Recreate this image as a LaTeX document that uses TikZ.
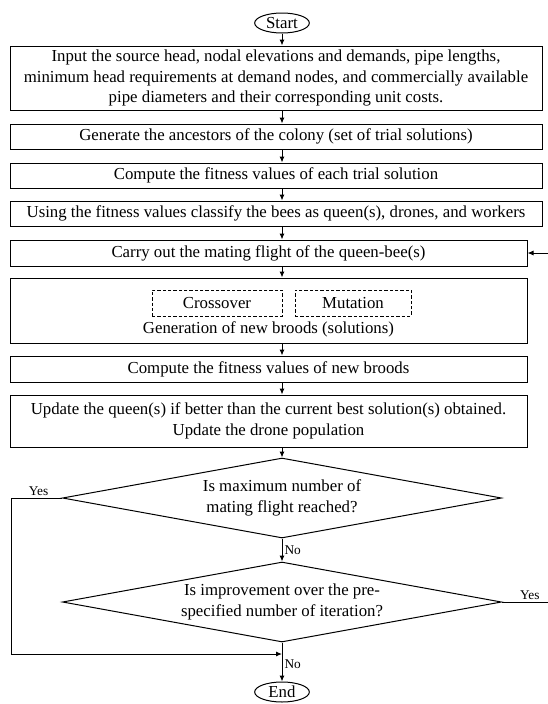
\documentclass[tikz,border=0pt]{standalone}
\usepackage{fontspec}
\setmainfont{Liberation Serif}
\usetikzlibrary{arrows.meta,shapes.geometric}

\begin{document}
\begin{tikzpicture}[x=0.75pt,y=-0.75pt,>={Latex[length=4.5pt,width=3.8pt]},line width=0.75pt,
  font=\fontsize{12.6}{15.5}\selectfont,
  proc/.style={draw,rectangle,align=center,inner sep=0pt},
  wide/.style={proc,minimum width=399pt},
  narrow/.style={proc,minimum width=387.75pt},
  term/.style={draw,ellipse,inner sep=0pt},
  test/.style={draw,diamond,aspect=5.5,inner sep=0pt,minimum width=329.25pt,minimum height=60pt,align=center},
  op/.style={draw,dash pattern=on 2.5pt off 1.5pt,minimum width=97.5pt,minimum height=19.5pt,inner sep=0pt},
  lbl/.style={font=\fontsize{10}{11}\selectfont,inner sep=1.5pt}]
\useasboundingbox (0,0) rectangle (548,704);
\node[term,minimum width=41pt,minimum height=15pt] (start) at (282,23) {Start};
\node[wide,minimum height=48pt] (input) at (276,78) {Input the source head, nodal elevations and demands, pipe lengths,\\ minimum head requirements at demand nodes, and commercially available\\ pipe diameters and their corresponding unit costs.};
\node[wide,minimum height=18.75pt] (ancestors) at (276,136.5) {Generate the ancestors of the colony (set of trial solutions)};
\node[wide,minimum height=18.75pt] (fitness) at (276,175.5) {Compute the fitness values of each trial solution};
\node[wide,minimum height=18.75pt] (classify) at (276,213.5) {Using the fitness values classify the bees as queen(s), drones, and workers};
\node[narrow,minimum height=19.5pt] (mating) at (268.5,253) {Carry out the mating flight of the queen-bee(s)};
\node[narrow,minimum height=48.75pt] (broods) at (268.5,310.5) {};
\node[op] (crossover) at (217,303) {Crossover};
\node[op,minimum width=87pt] (mutation) at (353,303) {Mutation};
\node (generation) at (268.5,329) {Generation of new broods (solutions)};
\node[narrow,minimum height=19.5pt] (newfit) at (268.5,369) {Compute the fitness values of new broods};
\node[narrow,minimum height=39pt] (update) at (268.5,421) {Update the queen(s) if better than the current best solution(s) obtained.\\ Update the drone population};
\node[test] (maxflight) at (282,498) {Is maximum number of\\ mating flight reached?};
\node[test] (improve) at (282,602) {Is improvement over the pre-\\ specified number of iteration?};
\node[term,minimum width=41pt,minimum height=15pt] (end) at (282,692) {End};
\coordinate (join) at (282,654);
\coordinate (yesleft) at (11,654);
\coordinate (yesright) at (560,253);
\draw[->] (start) -- (start |- input.north);
\draw[->] (start |- input.south) -- (start |- ancestors.north);
\draw[->] (start |- ancestors.south) -- (start |- fitness.north);
\draw[->] (start |- fitness.south) -- (start |- classify.north);
\draw[->] (start |- classify.south) -- (start |- mating.north);
\draw[->] (start |- mating.south) -- (start |- broods.north);
\draw[->] (start |- broods.south) -- (start |- newfit.north);
\draw[->] (start |- newfit.south) -- (start |- update.north);
\draw[->] (start |- update.south) -- (maxflight);
\draw[->] (maxflight) -- node[lbl,right]{No} (improve);
\draw[->] (improve) -- node[lbl,right,pos=0.55]{No} (end);
\draw[->] (maxflight.west) -| node[lbl,above,pos=0.23]{Yes} (yesleft) -- (join);
\draw[->] (improve.east) -| node[lbl,above,pos=0.24]{Yes} (yesright) -- (mating.east);
\end{tikzpicture}
\end{document}
